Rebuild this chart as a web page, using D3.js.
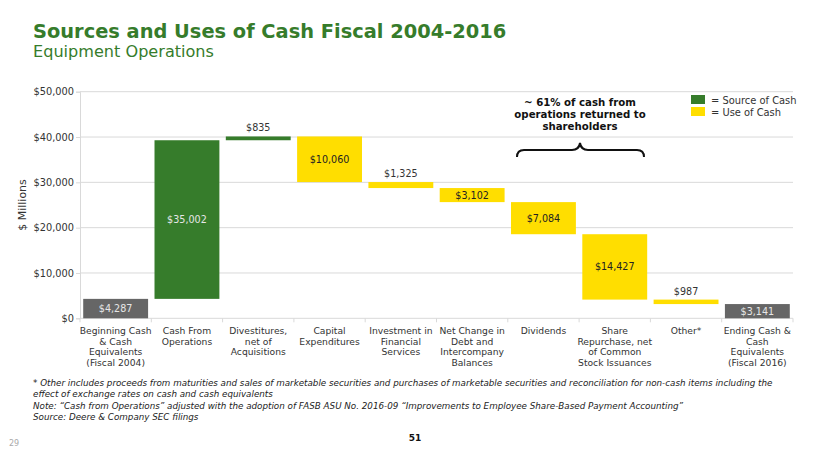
<!DOCTYPE html>
<html><head><meta charset="utf-8">
<script src="https://cdn.jsdelivr.net/npm/d3@7"></script>
<style>body{margin:0;background:#fff}svg{display:block;font-family:"DejaVu Sans",Verdana,sans-serif}</style>
</head><body><svg id="c" width="830" height="467"></svg>
<script>
const categories = [
  ["Beginning Cash","& Cash","Equivalents","(Fiscal 2004)"],
  ["Cash From","Operations"],
  ["Divestitures,","net of","Acquisitions"],
  ["Capital","Expenditures"],
  ["Investment in","Financial","Services"],
  ["Net Change in","Debt and","Intercompany","Balances"],
  ["Dividends"],
  ["Share","Repurchase, net","of Common","Stock Issuances"],
  ["Other*"],
  ["Ending Cash &","Cash","Equivalents","(Fiscal 2016)"]
];
const values = [4287, 35002, 835, -10060, -1325, -3102, -7084, -14427, -987, 3141];
const types = ["total","source","source","use","use","use","use","use","use","total"];
const yTicks = [0, 10000, 20000, 30000, 40000, 50000];
const colors = {total:"#666666", source:"#367C2B", use:"#FFDE00"};

// waterfall
let run = 0;
const bars = values.map((v,i)=>{
  let y0,y1;
  if (types[i]==="total"){ y0=0; y1=v; run=v; }
  else { y0=run; y1=run+v; run=y1; }
  return {i, v, lo:Math.min(y0,y1), hi:Math.max(y0,y1), type:types[i]};
});

const svg = d3.select("#c");
const L=80, R=793, T=91.7, B=318.3;
const x = d3.scaleBand().domain(d3.range(categories.length)).range([L,R]).paddingInner(0.09).paddingOuter(0.045);
const y = d3.scaleLinear().domain([0,50000]).range([B,T]);

// title
svg.append("text").attr("x",33).attr("y",38).attr("fill","#367C2B").attr("font-weight","bold").attr("font-size",19.4).text("Sources and Uses of Cash Fiscal 2004-2016");
svg.append("text").attr("x",33).attr("y",57).attr("fill","#367C2B").attr("font-size",16.1).text("Equipment Operations");

// grid
svg.append("g").selectAll("line").data(yTicks.filter(d=>d>0)).join("line")
  .attr("x1",L).attr("x2",R).attr("y1",d=>y(d)).attr("y2",d=>y(d))
  .attr("stroke","#d9d9d9").attr("stroke-width",1);

// y axis
const ya = svg.append("g").attr("transform",`translate(${L},0)`).call(d3.axisLeft(y).tickValues(yTicks).tickSize(4).tickFormat(d=>"$"+d3.format(",")(d)));
ya.select(".domain").attr("stroke","#d9d9d9");
ya.selectAll(".tick line").attr("stroke","#d9d9d9");
ya.selectAll("text").attr("font-family","DejaVu Sans").attr("font-size",9.8).attr("fill","#333").attr("x",-6);

svg.append("text").attr("transform","translate(26,205) rotate(-90)").attr("text-anchor","middle")
  .attr("font-size",11).attr("fill","#333").text("$ Millions");

// x axis
const xa = svg.append("g").attr("transform",`translate(0,${B})`);
xa.append("line").attr("x1",L).attr("x2",R).attr("stroke","#d9d9d9");
xa.selectAll("line.t").data(d3.range(categories.length+1)).join("line").attr("class","t")
  .attr("x1",i=>L+i*(R-L)/categories.length).attr("x2",i=>L+i*(R-L)/categories.length)
  .attr("y1",0).attr("y2",4).attr("stroke","#d9d9d9");
const cl = xa.selectAll("text").data(categories).join("text")
  .attr("text-anchor","middle").attr("font-size",9.2).attr("fill","#333")
  .attr("transform",(d,i)=>`translate(${x(i)+x.bandwidth()/2},0)`);
cl.each(function(d){
  d3.select(this).selectAll("tspan").data(d).join("tspan").attr("x",0).attr("y",(t,j)=>16+j*10.5).text(t=>t);
});

// bars
svg.append("g").selectAll("rect").data(bars).join("rect")
  .attr("x",d=>x(d.i)).attr("width",x.bandwidth())
  .attr("y",d=>y(d.hi)).attr("height",d=>Math.max(1,y(d.lo)-y(d.hi)))
  .attr("fill",d=>colors[d.type]);

// labels
svg.append("g").selectAll("text").data(bars).join("text")
  .attr("text-anchor","middle").attr("font-size",9.6)
  .attr("x",d=>x(d.i)+x.bandwidth()/2)
  .attr("y",d=>{const h=y(d.lo)-y(d.hi); return h>10 ? (y(d.lo)+y(d.hi))/2+3.5 : y(d.hi)-5;})
  .attr("fill",d=>{const h=y(d.lo)-y(d.hi); if(h<=10) return "#333"; return d.type==="use"?"#222":"#e6e6e6";})
  .text(d=>"$"+d3.format(",")(Math.abs(d.v)));

// annotation
const ann = svg.append("text").attr("text-anchor","middle").attr("font-weight","bold").attr("font-size",10.2).attr("fill","#111");
["~ 61% of cash from","operations returned to","shareholders"].forEach((t,j)=>ann.append("tspan").attr("x",580).attr("y",105.5+j*12.3).text(t));
svg.append("path").attr("fill","none").attr("stroke","#111").attr("stroke-width",2)
  .attr("d","M517,157 Q517,150 524,150 L572,150 Q579,150 580,143 Q581,150 588,150 L637,150 Q644,150 644,157");

// legend
const lg = svg.append("g");
[["source","= Source of Cash"],["use","= Use of Cash"]].forEach((d,j)=>{
  lg.append("rect").attr("x",691).attr("y",95+j*12).attr("width",14).attr("height",9).attr("fill",colors[d[0]]);
  lg.append("text").attr("x",711).attr("y",103.5+j*12).attr("font-size",9.9).attr("fill","#333").text(d[1]);
});

// footnotes
const fn = ["* Other includes proceeds from maturities and sales of marketable securities and purchases of marketable securities and reconciliation for non-cash items including the",
"effect of exchange rates on cash and cash equivalents",
"Note: \u201cCash from Operations\u201d adjusted with the adoption of FASB ASU No. 2016-09 \u201cImprovements to Employee Share-Based Payment Accounting\u201d",
"Source: Deere & Company SEC filings"];
fn.forEach((t,j)=>svg.append("text").attr("x",33).attr("y",386+j*11.3).attr("font-size",8.75).attr("font-style","italic").attr("fill","#222").text(t));

svg.append("text").attr("x",415).attr("y",441).attr("text-anchor","middle").attr("font-weight","bold").attr("font-size",9).attr("fill","#111").text("51");
svg.append("text").attr("x",14).attr("y",446).attr("text-anchor","middle").attr("font-size",8).attr("fill","#aaa").text("29");
</script></body></html>
